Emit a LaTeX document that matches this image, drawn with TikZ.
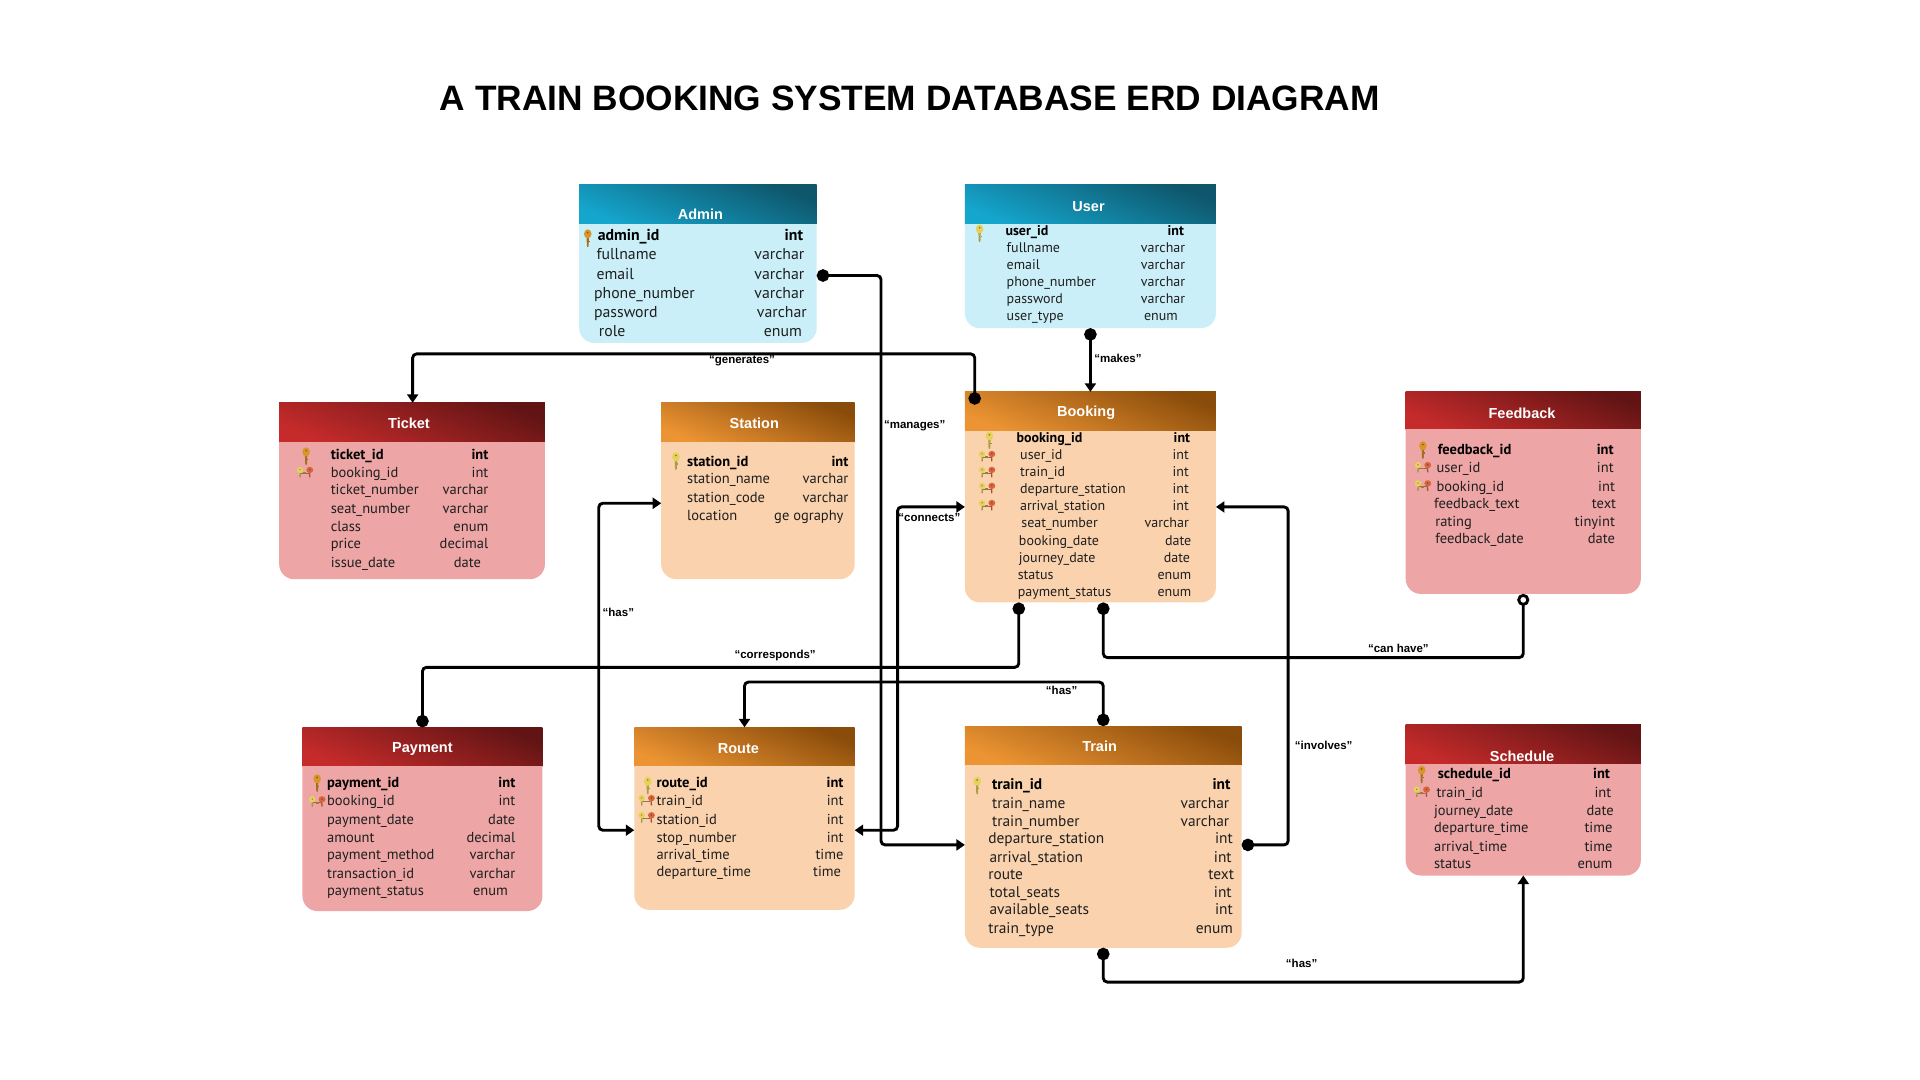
\documentclass[tikz,border=0pt]{standalone}
\usepackage{fontspec}
\setmainfont{Liberation Sans}
\newfontfamily\fieldfont{PT Sans}
\usetikzlibrary{arrows.meta,calc,fit}
\definecolor{tealA}{HTML}{15A6CE}\definecolor{tealB}{HTML}{0E566B}\definecolor{tealC}{HTML}{CBEFF9}
\definecolor{orA}{HTML}{EC9433}\definecolor{orB}{HTML}{8A4C0A}\definecolor{orC}{HTML}{FAD2AD}
\definecolor{redA}{HTML}{C62B2B}\definecolor{redB}{HTML}{621414}\definecolor{redC}{HTML}{EDA5A5}
\definecolor{keyA}{HTML}{D9952A}\definecolor{keyB}{HTML}{E6D25A}\definecolor{keyR}{HTML}{D8643A}
\def\fs{14.5}
\tikzset{
  tblbox/.style={inner sep=0pt,outer sep=0pt},
  hdtext/.style={font=\bfseries\fontsize{14.5}{15}\selectfont,text=white,inner sep=0pt,yshift=-.4pt},
  fname/.style={font=\fieldfont\fontsize{\fs}{\fs}\selectfont,anchor=mid west,inner sep=0pt,text=black!88,yshift=-2.4pt},
  ftype/.style={font=\fieldfont\fontsize{\fs}{\fs}\selectfont,anchor=mid east,inner sep=0pt,text=black!88,yshift=-2.4pt},
  fbold/.style={font=\fieldfont\bfseries\fontsize{\fs}{\fs}\selectfont,text=black},
  conn/.style={draw=black,line width=2.9pt,rounded corners=4pt},
  lbl/.style={font=\bfseries\fontsize{11.5}{12}\selectfont,inner sep=0pt,yshift=-.5pt},
  dot/.tip={Circle[length=12.5pt,width=12.5pt]},
  odot/.tip={Circle[open,fill=white,length=12pt,width=12pt,line width=2.9pt]},
  arr/.tip={Triangle[length=8.5pt,width=11pt]},
}
% table frame: id, x1,y1,hdrY,x2,y3, colour prefix, title x, title y, title
\newcommand\tbl[9]{%
  \fill[#7C] (#2,#4) -- (#5,#4) [rounded corners=15pt] -- (#5,#6) -- (#2,#6) [sharp corners] -- cycle;
  \path[shade,shading=axis,left color=#7A,right color=#7B,shading angle=158] (#2,#3) rectangle (#5,#4);
  \draw[#7C,line width=.8pt] (#2,#4) -- (#5,#4);
  \node[tblbox,fit={(#2,#3)(#5,#6)}] (#1) {};
  \def\curid{#1}\setcounter{rw}{0}%
  \tbltitle{#8}{#9}}
\newcommand\tbltitle[2]{\def\ttx{#1}\def\tty{#2}\tbltitleB}
\newcommand\tbltitleB[1]{\node[hdtext] (\curid-title) at (\ttx,\tty) {#1};}
\newcounter{rw}
\newcommand\frw[5]{\stepcounter{rw}%
  \node[fname] (\curid-n\arabic{rw}) at (#1,#3) {#4};
  \node[ftype] (\curid-t\arabic{rw}) at (#2,#3) {#5};}
\newcommand\frb[5]{\stepcounter{rw}%
  \node[fname,fbold] (\curid-n\arabic{rw}) at (#1,#3) {#4};
  \node[ftype,fbold] (\curid-t\arabic{rw}) at (#2,#3) {#5};}
\newcommand\pk[3]{\begin{scope}[shift={(#1,#2)}]
  \fill[#3!75!black] (-1,-1) -- (1,-1) -- (.7,7) -- (0,7.8) -- (-.7,7) -- cycle;
  \fill[#3] (0,-3) ellipse (3.1 and 3.7);
  \fill[#3!60!black] (0,-4) circle (.8);
  \fill[#3!70!black] (.8,2.5) rectangle (1.8,3.5);
\end{scope}}
\newcommand\fk[2]{\begin{scope}[shift={(#1,#2)}]
  \draw[keyB!70!black,line width=1.3pt] (-3.6,-2) -- (-4,3.8);
  \fill[keyB] (-4,-2.2) ellipse (2.6 and 2.6);
  \fill[keyB!60!black] (-4,-2.4) circle (.6);
  \draw[keyR!80!black,line width=1.3pt] (3.6,-2) -- (4,3.8);
  \fill[keyR] (4,-2.2) ellipse (2.8 and 2.6);
  \fill[keyR!60!black] (4,-2.4) circle (.6);
  \draw[black!55,line width=.7pt] (-3,.5) -- (3,.5);
  \fill[keyA!80!black] (-1.2,-.2) rectangle (1.2,1.2);
\end{scope}}
\begin{document}
\begin{tikzpicture}[x=1.22449pt,y=-1.22449pt]
\useasboundingbox (0,0) rectangle (1568,882);
\fill[white] (0,0) rectangle (1568,882);
\node[font=\bfseries\fontsize{35.3}{38}\selectfont,inner sep=0pt] (title) at (743,80) {A TRAIN BOOKING SYSTEM DATABASE ERD DIAGRAM};

% ---------- tables
\def\fs{15.8}
\tbl{admin}{473}{151}{183}{667}{280}{teal}{572}{175}{Admin}
\frb{488}{656}{192}{admin\_id}{int}
\frw{487}{657}{208}{fullname}{varchar}
\frw{487}{657}{224}{email}{varchar}
\frw{485}{657}{240}{phone\_number}{varchar}
\frw{485}{659}{255}{password}{varchar}
\frw{489}{655}{271}{role}{enum}
\pk{480}{194}{keyA}

\def\fs{14}
\tbl{user}{788}{151}{183}{993}{268}{teal}{889}{168}{User}
\frb{821}{967}{188}{user\_id}{int}
\frw{822}{968}{202}{fullname}{varchar}
\frw{822}{968}{216}{email}{varchar}
\frw{822}{968}{230}{phone\_number}{varchar}
\frw{822}{968}{244}{password}{varchar}
\frw{822}{962}{258}{user\_type}{enum}
\pk{800}{190}{keyB}

\def\fs{14.5}
\tbl{ticket}{228}{329}{361}{445}{473}{red}{334}{345}{Ticket}
\frb{270}{399}{371}{ticket\_id}{int}
\frw{270}{399}{386}{booking\_id}{int}
\frw{270}{399}{400}{ticket\_number}{varchar}
\frw{270}{399}{415}{seat\_number}{varchar}
\frw{270}{399}{430}{class}{enum}
\frw{270}{399}{444}{price}{decimal}
\frw{270}{393}{459}{issue\_date}{date}
\pk{250}{372}{keyA}
\fk{249}{386}

\tbl{station}{540}{329}{361}{698}{473}{or}{616}{345}{Station}
\frb{561}{693}{377}{station\_id}{int}
\frw{561}{693}{391}{station\_name}{varchar}
\frw{561}{693}{406}{station\_code}{varchar}
\frw{561}{689}{421}{location}{ge ography}
\pk{552}{376}{keyB}

\def\fs{14}
\tbl{booking}{788}{320}{352}{993}{492}{or}{887}{337}{Booking}
\frb{830}{972}{357}{booking\_id}{int}
\frw{833}{971}{371}{user\_id}{int}
\frw{833}{971}{385}{train\_id}{int}
\frw{833}{971}{399}{departure\_station}{int}
\frw{833}{971}{413}{arrival\_station}{int}
\frw{834}{971}{427}{seat\_number}{varchar}
\frw{832}{973}{441}{booking\_date}{date}
\frw{832}{972}{455}{journey\_date}{date}
\frw{831}{973}{469}{status}{enum}
\frw{831}{973}{483}{payment\_status}{enum}
\pk{808}{359}{keyB}
\fk{806}{373}\fk{806}{386}\fk{806}{399}\fk{806}{413}

\def\fs{14.5}
\tbl{feedback}{1148}{320}{351}{1340}{485}{red}{1243}{337}{Feedback}
\frb{1174}{1318}{367}{feedback\_id}{int}
\frw{1173}{1318}{382}{user\_id}{int}
\frw{1173}{1319}{397}{booking\_id}{int}
\frw{1171}{1320}{411}{feedback\_text}{text}
\frw{1172}{1319}{426}{rating}{tinyint}
\frw{1172}{1319}{440}{feedback\_date}{date}
\pk{1162}{367}{keyA}
\fk{1162}{382}\fk{1162}{397}

\tbl{payment}{247}{594}{626}{443}{744}{red}{345}{611}{Payment}
\frb{267}{421}{639}{payment\_id}{int}
\frw{267}{421}{654}{booking\_id}{int}
\frw{267}{421}{669}{payment\_date}{date}
\frw{267}{421}{684}{amount}{decimal}
\frw{267}{421}{698}{payment\_method}{varchar}
\frw{267}{421}{713}{transaction\_id}{varchar}
\frw{267}{415}{727}{payment\_status}{enum}
\pk{259}{639}{keyA}
\fk{259}{655}

\tbl{route}{518}{594}{626}{698}{743}{or}{603}{611}{Route}
\frb{536}{689}{639}{route\_id}{int}
\frw{536}{689}{654}{train\_id}{int}
\frw{536}{689}{669}{station\_id}{int}
\frw{536}{689}{684}{stop\_number}{int}
\frw{536}{689}{698}{arrival\_time}{time}
\frw{536}{687}{712}{departure\_time}{time}
\pk{529}{641}{keyB}
\fk{528}{654}\fk{528}{668}

\def\fs{15.4}
\tbl{train}{788}{593}{625}{1014}{774}{or}{898}{609}{Train}
\frb{810}{1005}{641}{train\_id}{int}
\frw{810}{1004}{656}{train\_name}{varchar}
\frw{810}{1004}{671}{train\_number}{varchar}
\frw{807}{1007}{685}{departure\_station}{int}
\frw{808}{1006}{700}{arrival\_station}{int}
\frw{807}{1008}{714}{route}{text}
\frw{808}{1006}{729}{total\_seats}{int}
\frw{808}{1007}{743}{available\_seats}{int}
\frw{807}{1007}{758}{train\_type}{enum}
\pk{798}{641}{keyB}

\def\fs{14.5}
\tbl{schedule}{1148}{592}{624}{1340}{715}{red}{1243}{617}{Schedule}
\frb{1174}{1315}{632}{schedule\_id}{int}
\frw{1173}{1316}{647}{train\_id}{int}
\frw{1171}{1318}{662}{journey\_date}{date}
\frw{1171}{1317}{676}{departure\_time}{time}
\frw{1171}{1317}{691}{arrival\_time}{time}
\frw{1171}{1317}{705}{status}{enum}
\pk{1161}{632}{keyA}
\fk{1161}{647}

% ---------- connectors
\draw[conn,dot-arr] (admin.east |- 0,225) -- (719.5,225) -- (719.5,690) -- (train.west |- 0,690);
\draw[conn,dot-arr] (user.south) -- (booking.north);
\draw[conn,dot-arr] ($(booking.north west)+(8,10.5)$) -- (796,289) -- (337,289) -- (ticket.north -| 337,0);
\draw[conn,arr-arr] (station.west |- 0,411) -- (489,411) -- (489,678) -- (route.west |- 0,678);
\draw[conn,arr-arr] (route.east |- 0,678) -- (733,678) -- (733,414) -- (booking.west |- 0,414);
\draw[conn,dot-dot] (booking.south -| 832,0) -- (832,545) -- (345,545) -- (payment.north);
\draw[conn,dot-odot] (booking.south -| 901,0) -- (901,537) -- (1244,537) -- (feedback.south);
\draw[conn,dot-arr] (train.north -| 901,0) -- (901,557) -- (608,557) -- (route.north);
\draw[conn,dot-arr] (train.east |- 0,690) -- (1052,690) -- (1052,414) -- (booking.east |- 0,414);
\draw[conn,dot-arr] (train.south -| 901,0) -- (901,802) -- (1244,802) -- (schedule.south);

% ---------- labels
\node[lbl] (l-generates) at (606,294) {“generates”};
\node[lbl] (l-makes) at (913,292) {“makes”};
\node[lbl] (l-manages) at (747,347) {“manages”};
\node[lbl] (l-connects) at (759,422) {“connects”};
\node[lbl] (l-has1) at (505,500) {“has”};
\node[lbl] (l-corresponds) at (633,535) {“corresponds”};
\node[lbl] (l-canhave) at (1142,529) {“can have”};
\node[lbl] (l-has2) at (867,563) {“has”};
\node[lbl] (l-involves) at (1081,608) {“involves”};
\node[lbl] (l-has3) at (1063,786) {“has”};
\end{tikzpicture}
\end{document}
